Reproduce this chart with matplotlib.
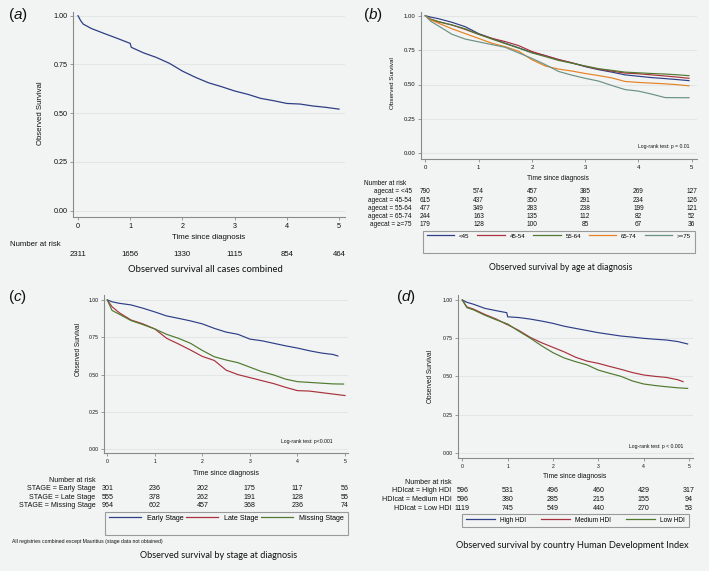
import matplotlib
matplotlib.use("Agg")
import matplotlib.pyplot as plt
from matplotlib.patches import Rectangle
from matplotlib.lines import Line2D
from matplotlib.transforms import blended_transform_factory

plt.rcParams["font.family"] = ["Liberation Sans", "DejaVu Sans"]
plt.rcParams["mathtext.fontset"] = "custom"
plt.rcParams["mathtext.it"] = "Liberation Sans:italic"
plt.rcParams["mathtext.rm"] = "Liberation Sans"

# --- data ---
years = [0, 1, 2, 3, 4, 5]

# (a) all cases
t_all = [0, 0.05, 0.1, 0.25, 0.5, 0.75, 1.0, 1.02, 1.25, 1.5, 1.75, 2.0, 2.25,
         2.5, 2.75, 3.0, 3.25, 3.5, 3.75, 4.0, 4.25, 4.5, 4.75, 5.0]
s_all = [1.0, 0.975, 0.957, 0.935, 0.909, 0.884, 0.858, 0.838, 0.81, 0.786, 0.756, 0.716, 0.684,
         0.656, 0.636, 0.614, 0.597, 0.576, 0.564, 0.55, 0.547, 0.537, 0.53, 0.521]
risk_all = [2311, 1656, 1330, 1115, 854, 464]

# (b) by age
t_age = [0, 0.1, 0.25, 0.5, 0.75, 1.0, 1.25, 1.5, 1.75, 2.0, 2.25, 2.5, 2.75,
         3.0, 3.25, 3.5, 3.75, 4.0, 4.25, 4.5, 4.75, 4.95]
age_groups = ["<45", "45-54", "55-64", "65-74", ">=75"]
age_rows = ["agecat = <45", "agecat = 45-54", "agecat = 55-64", "agecat = 65-74", "agecat = \u2265=75"]
s_lt45 = [1.0, 0.99, 0.978, 0.952, 0.92, 0.87, 0.835, 0.8, 0.767, 0.733, 0.71, 0.68, 0.657,
          0.63, 0.608, 0.59, 0.57, 0.56, 0.55, 0.543, 0.535, 0.528]
s_45_54 = [1.0, 0.975, 0.955, 0.933, 0.9, 0.865, 0.835, 0.812, 0.783, 0.74, 0.71, 0.682, 0.658,
           0.632, 0.612, 0.597, 0.583, 0.578, 0.57, 0.562, 0.553, 0.545]
s_55_64 = [1.0, 0.975, 0.957, 0.932, 0.905, 0.865, 0.83, 0.797, 0.765, 0.73, 0.703, 0.675, 0.655,
           0.635, 0.615, 0.603, 0.59, 0.585, 0.58, 0.576, 0.57, 0.564]
s_65_74 = [1.0, 0.97, 0.945, 0.905, 0.87, 0.835, 0.8, 0.775, 0.742, 0.68, 0.635, 0.612, 0.598,
           0.58, 0.565, 0.548, 0.522, 0.515, 0.51, 0.505, 0.498, 0.49]
s_ge75 = [1.0, 0.96, 0.925, 0.865, 0.83, 0.81, 0.79, 0.77, 0.73, 0.69, 0.645, 0.595, 0.568,
          0.545, 0.525, 0.493, 0.463, 0.452, 0.43, 0.405, 0.404, 0.404]
risk_age = [[790, 574, 457, 385, 269, 127],
            [615, 437, 350, 291, 234, 126],
            [477, 349, 283, 238, 199, 121],
            [244, 163, 135, 112, 82, 52],
            [179, 128, 100, 85, 67, 36]]

# (c) by stage
t_stage = [0, 0.1, 0.25, 0.5, 0.75, 1.0, 1.25, 1.5, 1.75, 2.0, 2.25, 2.5, 2.75,
           3.0, 3.25, 3.5, 3.75, 4.0, 4.25, 4.5, 4.75]
stage_groups = ["Early Stage", "Late Stage", "Missing Stage"]
stage_rows = ["STAGE = Early Stage", "STAGE = Late Stage", "STAGE = Missing Stage"]
t_early_end, t_late_end, t_missing_end = 4.85, 5.0, 4.97
s_early = [1.0, 0.988, 0.978, 0.967, 0.945, 0.92, 0.893, 0.877, 0.86, 0.84, 0.81, 0.785, 0.77,
           0.738, 0.727, 0.71, 0.693, 0.678, 0.66, 0.645, 0.635, 0.625]
s_late = [1.0, 0.955, 0.915, 0.866, 0.84, 0.806, 0.743, 0.705, 0.665, 0.622, 0.595, 0.53, 0.5,
          0.48, 0.46, 0.44, 0.415, 0.393, 0.39, 0.38, 0.37, 0.36]
s_missing = [1.0, 0.93, 0.905, 0.862, 0.835, 0.806, 0.77, 0.743, 0.71, 0.662, 0.62, 0.598, 0.58,
             0.55, 0.52, 0.498, 0.47, 0.453, 0.448, 0.443, 0.438, 0.437]
risk_stage = [[301, 236, 202, 175, 117, 56],
              [555, 378, 262, 191, 128, 55],
              [964, 602, 457, 368, 236, 74]]

# (d) by HDI
t_hdi = [0, 0.1, 0.25, 0.5, 0.75, 0.98, 1.0, 1.25, 1.5, 1.75, 2.0, 2.25, 2.5, 2.75,
         3.0, 3.25, 3.5, 3.75, 4.0, 4.25, 4.5, 4.75]
hdi_groups = ["High HDI", "Medium HDI", "Low HDI"]
hdi_rows = ["HDIcat = High HDI", "HDIcat = Medium HDI", "HDIcat = Low HDI"]
t_high_end, t_medium_end, t_low_end = 4.97, 4.87, 4.97
s_high = [1.0, 0.985, 0.972, 0.945, 0.93, 0.917, 0.89, 0.885, 0.875, 0.862, 0.847, 0.828, 0.814,
          0.8, 0.786, 0.775, 0.764, 0.757, 0.749, 0.743, 0.738, 0.728, 0.712]
s_medium = [1.0, 0.955, 0.94, 0.905, 0.875, 0.84, 0.838, 0.8, 0.755, 0.72, 0.69, 0.66, 0.625,
            0.6, 0.585, 0.565, 0.546, 0.525, 0.509, 0.5, 0.493, 0.478, 0.465]
s_low = [1.0, 0.95, 0.935, 0.9, 0.87, 0.845, 0.843, 0.795, 0.75, 0.7, 0.655, 0.62, 0.596,
         0.575, 0.541, 0.52, 0.5, 0.47, 0.45, 0.44, 0.432, 0.425, 0.421]
risk_hdi = [[596, 531, 496, 460, 429, 317],
            [596, 380, 285, 215, 155, 94],
            [1119, 745, 549, 440, 270, 53]]

# --- styling ---
BG = "#f2f3f3"
GRID = "#e2e6e6"
SPINE = "#8a8a8a"
TXT = "#111111"
BLUE, RED, GREEN, ORANGE, TEAL = "#2d3f86", "#a8323d", "#4f7a2f", "#e68222", "#6b9185"
CAPTION_FONT = ["Lato", "DejaVu Sans"]

W, H = 709, 571
fig = plt.figure(figsize=(W / 100, H / 100), dpi=100, facecolor=BG)


def fx(px):
    return px / W


def fy(py):
    return 1 - py / H


def km_axes(box, x0px, x5px, y1px, y0px, ticksize):
    left, top, right, bottom = box
    ax = fig.add_axes([fx(left), fy(bottom), (right - left) / W, (bottom - top) / H])
    ax.set_facecolor(BG)
    ux = 5.0 / (x5px - x0px)
    uy = 1.0 / (y0px - y1px)
    ax.set_xlim((left - x0px) * ux, (right - x0px) * ux)
    ax.set_ylim((y0px - bottom) * uy, (y0px - top) * uy)
    for s in ["top", "right"]:
        ax.spines[s].set_visible(False)
    for s in ["left", "bottom"]:
        ax.spines[s].set_color(SPINE)
        ax.spines[s].set_linewidth(0.8)
    ax.set_xticks(years)
    ax.set_yticks([0, 0.25, 0.5, 0.75, 1.0])
    ax.set_yticklabels(["0.00", "0.25", "0.50", "0.75", "1.00"])
    ax.tick_params(length=2.5, width=0.6, color=SPINE, labelsize=ticksize, pad=1.5, labelcolor=TXT)
    ax.grid(axis="y", color=GRID, lw=0.8)
    ax.set_axisbelow(True)
    return ax


def risk_table(ax, rows, labels, ys, label_x, size):
    tr = blended_transform_factory(ax.transData, fig.transFigure)
    for row, lab, py in zip(rows, labels, ys):
        if lab:
            fig.text(fx(label_x), fy(py), lab, ha="right", va="center", fontsize=size, color=TXT)
        for t, n in zip(years, row):
            ax.text(t, fy(py), str(n), transform=tr, ha="center", va="center", fontsize=size, color=TXT)


def legend_box(ax, handles, labels, box, size, cols):
    left, top, right, bottom = box
    fig.patches.append(Rectangle((fx(left), fy(bottom)), (right - left) / W, (bottom - top) / H,
                                 transform=fig.transFigure, fill=False, edgecolor="#9a9a9a", lw=0.8))
    ax.legend(handles, labels, ncol=cols, mode="expand", loc="upper left", frameon=False,
              bbox_to_anchor=(fx(left + 2), fy(top + 1), (right - left - 4) / W, 0.001),
              bbox_transform=fig.transFigure, fontsize=size, handlelength=4.5,
              borderaxespad=0, borderpad=0.3, handletextpad=0.8, columnspacing=0.5)


def panel_tag(px, py, letter):
    fig.text(fx(px), fy(py), "($\\mathit{%s}$)" % letter, fontsize=11, ha="left", va="center", color=TXT)


# (a)
ax_a = km_axes((73, 12, 345, 217), 78, 339, 15.7, 210.7, 5.2)
ax_a.plot(t_all, s_all, color=BLUE, lw=0.9)
fig.text(fx(40.5), fy(113), "Observed Survival", rotation=90, ha="center", va="center", fontsize=5.6, color=TXT)
fig.text(fx(209), fy(238), "Time since diagnosis", ha="center", va="center", fontsize=5.7, color=TXT)
fig.text(fx(10), fy(245), "Number at risk", ha="left", va="center", fontsize=5.6, color=TXT)
risk_table(ax_a, [risk_all], [""], [255], 0, 5.6)
fig.text(fx(205.5), fy(270), "Observed survival all cases combined", ha="center", va="center",
         fontsize=6.8, family=CAPTION_FONT, color=TXT)
panel_tag(8, 15, "a")

# (b)
ax_b = km_axes((420.7, 12, 696.7, 159.3), 425.3, 691.7, 15.7, 153.3, 4.3)
age_series = [s_lt45, s_45_54, s_55_64, s_65_74, s_ge75]
age_colors = [BLUE, RED, GREEN, ORANGE, TEAL]
for s, c in zip(age_series, age_colors):
    ax_b.plot(t_age, s, color=c, lw=0.85)
ax_b.text(4.95, 0.048, "Log-rank test: p = 0.01", ha="right", va="center", fontsize=3.7, color=TXT)
fig.text(fx(392.7), fy(83), "Observed Survival", rotation=90, ha="center", va="center", fontsize=4.6, color=TXT)
fig.text(fx(558), fy(178), "Time since diagnosis", ha="center", va="center", fontsize=4.8, color=TXT)
fig.text(fx(364), fy(183.5), "Number at risk", ha="left", va="center", fontsize=4.7, color=TXT)
risk_table(ax_b, risk_age, age_rows, [191.7, 200, 208.3, 216.7, 225], 411.7, 4.7)
legend_box(ax_b, [Line2D([], [], color=c, lw=0.9) for c in age_colors], age_groups,
           (423, 231, 695, 253), 4.4, 5)
fig.text(fx(561), fy(267), "Observed survival by age at diagnosis", ha="center", va="center",
         fontsize=6.2, family=CAPTION_FONT, color=TXT)
panel_tag(363, 15, "b")

# (c)
ax_c = km_axes((104, 295, 348, 453.3), 107.3, 345, 300, 449.3, 3.7)
stage_series = [(t_stage + [t_early_end], s_early), (t_stage + [t_late_end], s_late),
                (t_stage + [t_missing_end], s_missing)]
stage_colors = [BLUE, RED, GREEN]
for (t, s), c in zip(stage_series, stage_colors):
    ax_c.plot(t, s, color=c, lw=0.85)
ax_c.text(4.73, 0.05, "Log-rank test: p<0.001", ha="right", va="center", fontsize=3.7, color=TXT)
fig.text(fx(79), fy(350), "Observed Survival", rotation=90, ha="center", va="center", fontsize=4.7, color=TXT)
fig.text(fx(226), fy(473.5), "Time since diagnosis", ha="center", va="center", fontsize=5, color=TXT)
fig.text(fx(95.7), fy(480.5), "Number at risk", ha="right", va="center", fontsize=5.1, color=TXT)
risk_table(ax_c, risk_stage, stage_rows, [489, 497.3, 505.7], 95.7, 5.1)
legend_box(ax_c, [Line2D([], [], color=c, lw=0.9) for c in stage_colors], stage_groups,
           (105, 512.3, 347.7, 535), 5.1, 3)
fig.text(fx(11.7), fy(541), "All registries combined except Mauritius (stage data not obtained)",
         ha="left", va="center", fontsize=3.7, color=TXT)
fig.text(fx(219), fy(555), "Observed survival by stage at diagnosis", ha="center", va="center",
         fontsize=6.6, family=CAPTION_FONT, color=TXT)
panel_tag(8, 297, "c")

# (d)
ax_d = km_axes((458.3, 295, 693, 458.3), 462.3, 689, 300, 452.7, 3.7)
hdi_series = [(t_hdi + [t_high_end], s_high), (t_hdi + [t_medium_end], s_medium),
              (t_hdi + [t_low_end], s_low)]
hdi_colors = [BLUE, RED, GREEN]
for (t, s), c in zip(hdi_series, hdi_colors):
    ax_d.plot(t, s, color=c, lw=0.85)
ax_d.text(4.87, 0.04, "Log-rank test: p < 0.001", ha="right", va="center", fontsize=3.7, color=TXT)
fig.text(fx(430.3), fy(376.7), "Observed Survival", rotation=90, ha="center", va="center", fontsize=4.7, color=TXT)
fig.text(fx(575), fy(477), "Time since diagnosis", ha="center", va="center", fontsize=4.9, color=TXT)
fig.text(fx(451.7), fy(482.5), "Number at risk", ha="right", va="center", fontsize=5.1, color=TXT)
risk_table(ax_d, risk_hdi, hdi_rows, [491, 499.3, 508], 451.7, 5.1)
legend_box(ax_d, [Line2D([], [], color=c, lw=0.9) for c in hdi_colors], hdi_groups,
           (461.7, 514.3, 689.3, 527.3), 4.7, 3)
fig.text(fx(572), fy(545), "Observed survival by country Human Development Index", ha="center", va="center",
         fontsize=6.7, family=CAPTION_FONT, color=TXT)
panel_tag(396, 297, "d")

fig.savefig("out.png", dpi=100, facecolor=BG)
